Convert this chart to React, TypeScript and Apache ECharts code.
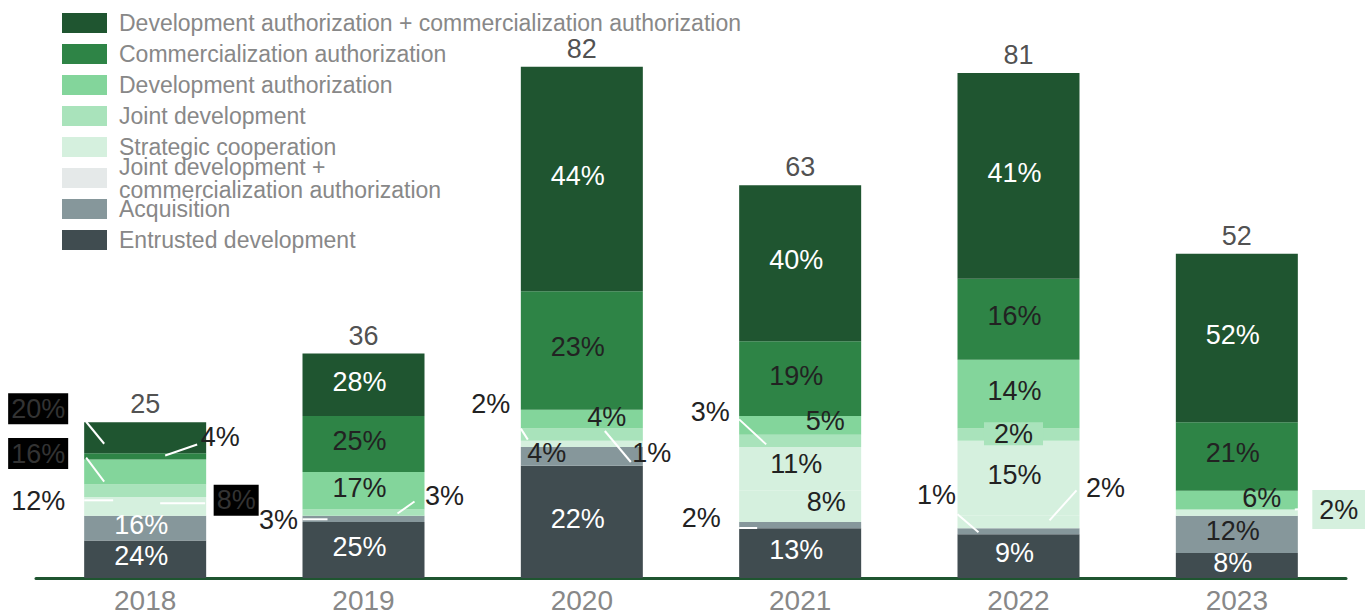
import React, { useEffect, useRef } from "react";
import * as echarts from "echarts";

// Deals per year, split by cooperation model (stacked bottom to top)
const years = ["2018", "2019", "2020", "2021", "2022", "2023"];
const entrusted = [6, 9, 18, 8, 7, 4];
const acquisition = [4, 1, 3, 1, 1, 6];
const jointCommercial = [0, 0, 0, 5, 2, 0];
const strategic = [3, 0, 1, 7, 12, 1];
const jointDev = [2, 1, 2, 2, 2, 0];
const devAuth = [4, 6, 3, 3, 11, 3];
const commAuth = [1, 9, 19, 12, 13, 11];
const devCommAuth = [5, 10, 36, 25, 33, 27];

const seriesNames = [
  "Entrusted development",
  "Acquisition",
  "Joint development + commercialization authorization",
  "Strategic cooperation",
  "Joint development",
  "Development authorization",
  "Commercialization authorization",
  "Development authorization + commercialization authorization",
];
const legendLabels = [
  "Entrusted development",
  "Acquisition",
  "Joint development +\ncommercialization authorization",
  "Strategic cooperation",
  "Joint development",
  "Development authorization",
  "Commercialization authorization",
  "Development authorization + commercialization authorization",
];

const stackValues = [entrusted, acquisition, jointCommercial, strategic, jointDev, devAuth, commAuth, devCommAuth];

const legendColors = ["#404c50", "#86979b", "#e5e9e9", "#d5f0de", "#a9e3bb", "#83d59b", "#2e8446", "#1f5530"];
const barColors = ["#404c50", "#86979b", "#d5f0de", "#d5f0de", "#a9e3bb", "#83d59b", "#2e8446", "#1f5530"];
const labelColors = ["#ffffff", "#222222", "#222222", "#222222", "#222222", "#222222", "#222222", "#ffffff"];

const FONT = '"Liberation Sans", Arial, Helvetica, sans-serif';
const NUM_SIZE = 27;

const totals = years.map((_, y) => stackValues.reduce((s, arr) => s + arr[y], 0));
const pct = (v: number, y: number) => Math.round((v / totals[y]) * 100) + "%";
const segMid = (y: number, s: number) => {
  let base = 0;
  for (let k = 0; k < s; k++) base += stackValues[k][y];
  return base + stackValues[s][y] / 2;
};

// Labels placed beside the bars with a white leader line (offsets from the segment centre)
type Callout = {
  year: number;
  series: number;
  text: [number, number];
  line: [number, number, number, number];
  fill?: string;
  bg?: string;
  pad?: number[];
};
const BOX = "#000000";
const callouts: Callout[] = [
  { year: 0, series: 7, text: [-107, -29], line: [-59, -16, -41, 6], fill: "#333", bg: BOX, pad: [2, 3] },
  { year: 0, series: 5, text: [-107, -18.5], line: [-59, -14.5, -41, 9.5], fill: "#333", bg: BOX, pad: [2, 3] },
  { year: 0, series: 3, text: [-107, -5], line: [-61, -6, -32, -6] },
  { year: 0, series: 4, text: [91, 9.5], line: [15, 12.5, 60, 12.5], fill: "#333", bg: BOX, pad: [2, 3] },
  { year: 0, series: 6, text: [75, -19], line: [20, -1, 52, -12] },
  { year: 1, series: 4, text: [81, -17], line: [34, 1, 51, -11] },
  { year: 1, series: 1, text: [-85, 1.5], line: [-61, 0.5, -36, 0.5] },
  { year: 2, series: 4, text: [-91, -31], line: [-61, -6, -54, 5] },
  { year: 2, series: 3, text: [70, 9], line: [23, -13, 49, 18] },
  { year: 3, series: 4, text: [-90, -28.5], line: [-61, -21.5, -34, 3.5] },
  { year: 3, series: 1, text: [-99, -7], line: [-61, 3, -43, 3] },
  { year: 4, series: 1, text: [-82, -36], line: [-61, -17, -40, 1] },
  { year: 4, series: 2, text: [87, -33.5], line: [31, -1.5, 58, -31.5] },
  { year: 5, series: 3, text: [102, -3], line: [58, -3, 75, -4], bg: "#d5f0de", pad: [6, 7] },
];
const calloutKeys = new Set(callouts.map((c) => `${c.year}-${c.series}`));

// Per-item tweaks for labels drawn inside the bars
const inlineTweaks: Record<string, any> = {
  "0-1": { color: "#ffffff" },
  "2-5": { offset: [25, -2] },
  "2-1": { offset: [-35, -3] },
  "3-5": { offset: [25, -4] },
  "3-3": { offset: [-4, -5] },
  "3-2": { offset: [26, -4] },
  "4-4": { offset: [-5, -1], backgroundColor: "#a9e3bb", padding: [0, 10], lineHeight: 23 },
  "5-5": { offset: [25, -2] },
};

export default function App() {
  const ref = useRef<HTMLDivElement>(null);

  useEffect(() => {
    document.body.style.margin = "0";
    if (!ref.current) return;
    const chart = echarts.init(ref.current, undefined, { renderer: "svg" });

    const barSeries = stackValues.map((arr, s) => ({
      type: "bar",
      name: seriesNames[s],
      stack: "deals",
      barWidth: 122,
      itemStyle: { color: barColors[s] },
      label: {
        show: true,
        position: "inside",
        color: labelColors[s],
        fontSize: NUM_SIZE,
        fontFamily: FONT,
        offset: [-4, -3],
        formatter: (p: any) => pct(p.value, p.dataIndex),
      },
      data: arr.map((v, y) => {
        const key = `${y}-${s}`;
        const hidden = v === 0 || calloutKeys.has(key);
        return hidden ? { value: v, label: { show: false } } : { value: v, label: inlineTweaks[key] };
      }),
      z: 2,
    }));

    const legendGraphics: any[] = [];
    for (let row = 0; row < 8; row++) {
      const s = 7 - row;
      legendGraphics.push({
        type: "rect",
        shape: { x: 62, y: 13 + 31 * row, width: 45, height: 20 },
        style: { fill: legendColors[s] },
      });
      legendGraphics.push({
        type: "text",
        x: 119,
        y: 23 + 31 * row,
        style: {
          text: legendLabels[s],
          fill: "#888888",
          font: `23px ${FONT}`,
          verticalAlign: "middle",
          lineHeight: 23,
        },
      });
    }

    chart.setOption({
      animation: false,
      grid: { left: 36, right: 19, top: 17, bottom: 33, outerBoundsMode: "none", containLabel: false },
      xAxis: {
        type: "category",
        data: years,
        axisLine: { lineStyle: { color: "#1f5530", width: 3 } },
        axisTick: { show: false },
        axisLabel: { color: "#888888", fontSize: 28, fontFamily: FONT, margin: 8 },
      },
      yAxis: { type: "value", min: 0, max: 90, show: false, splitLine: { show: false } },
      graphic: legendGraphics,
      series: [
        ...barSeries,
        {
          type: "scatter",
          name: "Total",
          symbolSize: 1,
          itemStyle: { color: "rgba(0,0,0,0)" },
          data: totals.map((t, y) => [y, t]),
          label: {
            show: true,
            position: "top",
            distance: 4,
            color: "#222222",
            fontSize: NUM_SIZE,
            fontFamily: FONT,
            formatter: (p: any) => String(p.value[1]),
          },
          z: 5,
        },
        {
          type: "custom",
          name: "Callouts",
          coordinateSystem: "cartesian2d",
          clip: false,
          silent: true,
          z: 10,
          encode: { x: 0, y: 1 },
          data: callouts.map((c) => [c.year, segMid(c.year, c.series)]),
          renderItem: (params: any, api: any) => {
            const c = callouts[params.dataIndex];
            const [cx, my] = api.coord([api.value(0), api.value(1)]);
            return {
              type: "group",
              children: [
                {
                  type: "line",
                  shape: { x1: cx + c.line[0], y1: my + c.line[1], x2: cx + c.line[2], y2: my + c.line[3] },
                  style: { stroke: "#ffffff", lineWidth: 2 },
                },
                {
                  type: "text",
                  x: cx + c.text[0],
                  y: my + c.text[1],
                  style: {
                    text: pct(stackValues[c.series][c.year], c.year),
                    font: `${NUM_SIZE}px ${FONT}`,
                    fill: c.fill || "#222222",
                    align: "center",
                    verticalAlign: "middle",
                    backgroundColor: c.bg,
                    padding: c.pad,
                  },
                },
              ],
            };
          },
        },
      ],
    });

    return () => chart.dispose();
  }, []);

  return <div ref={ref} style={{ width: 1365, height: 611 }} />;
}
